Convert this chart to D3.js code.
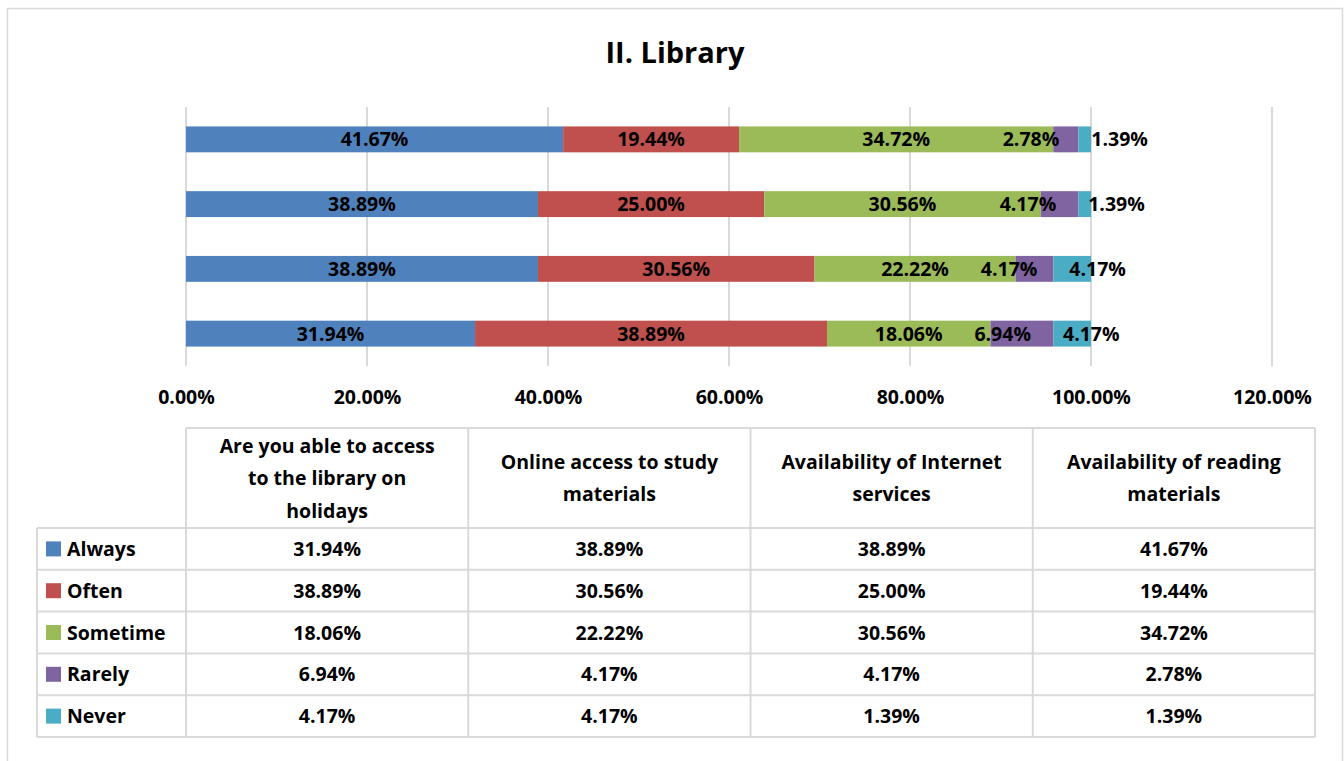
<!DOCTYPE html>
<html>
<head>
<meta charset="utf-8">
<script src="https://cdn.jsdelivr.net/npm/d3@7"></script>
<style>
  html, body { margin: 0; padding: 0; background: #fff; }
  svg { display: block; font-family: "Open Sans", Lato, "Liberation Sans", sans-serif; font-weight: 700; }
</style>
</head>
<body>
<svg id="chart" width="1344" height="761"></svg>
<script>
// ---- data ----
const title = "II. Library";
const categories = [
  "Are you able to access to the library on holidays",
  "Online access to study materials",
  "Availability of Internet services",
  "Availability of reading materials"
];
const seriesNames = ["Always", "Often", "Sometime", "Rarely", "Never"];
const seriesColors = ["#4F81BD", "#C0504D", "#9BBB59", "#8064A2", "#4BACC6"];
const always   = [31.94, 38.89, 38.89, 41.67];
const often    = [38.89, 30.56, 25.00, 19.44];
const sometime = [18.06, 22.22, 30.56, 34.72];
const rarely   = [6.94, 4.17, 4.17, 2.78];
const never    = [4.17, 4.17, 1.39, 1.39];
const xTicks = [0, 20, 40, 60, 80, 100, 120];

const seriesValues = [always, often, sometime, rarely, never];

// ---- layout ----
const svg = d3.select("#chart");
const W = 1344, H = 761;
const plot = { left: 186, right: 1272, top: 107, bottom: 366 };
const table = { legendLeft: 37, left: 186, right: 1315, top: 428, headerBottom: 528, rowH: 41.8 };
const gridColor = "#d9d9d9";
const fs = 19.5;
const fmt = v => v.toFixed(2) + "%";

// outer frame
svg.append("rect").attr("x", 7.5).attr("y", 8.5).attr("width", 1335).attr("height", H + 10)
  .attr("fill", "#fff").attr("stroke", gridColor).attr("stroke-width", 1.5);

// title
svg.append("text").attr("x", 675).attr("y", 63).attr("text-anchor", "middle")
  .attr("font-size", 29).attr("fill", "#000").text(title);

// scales
const x = d3.scaleLinear().domain([0, 120]).range([plot.left, plot.right]);
const y = d3.scaleBand().domain(categories.slice().reverse())
  .range([plot.top, plot.bottom]).paddingInner(0.6).paddingOuter(0.3);

// gridlines
svg.append("g").selectAll("line").data(xTicks).join("line")
  .attr("x1", d => x(d)).attr("x2", d => x(d))
  .attr("y1", plot.top).attr("y2", plot.bottom)
  .attr("stroke", gridColor).attr("stroke-width", 2);

// x axis labels (via d3 axis)
const xAxis = d3.axisBottom(x).tickValues(xTicks).tickFormat(d => d.toFixed(2) + "%").tickSize(0).tickPadding(0);
const gx = svg.append("g").attr("transform", `translate(0,${plot.bottom})`).call(xAxis);
gx.select(".domain").remove();
gx.selectAll("text").attr("font-size", fs).attr("font-family", "'Open Sans', sans-serif")
  .attr("font-weight", 700).attr("fill", "#000").attr("dy", null).attr("y", 38);

// stacked data
const stackRows = categories.map((c, ci) => {
  const o = { cat: c };
  seriesNames.forEach((s, si) => o[s] = seriesValues[si][ci]);
  return o;
});
const stacked = d3.stack().keys(seriesNames)(stackRows);

const gBars = svg.append("g");
stacked.forEach((layer, si) => {
  gBars.selectAll(null).data(layer).join("rect")
    .attr("x", d => x(d[0]))
    .attr("y", d => y(d.data.cat))
    .attr("width", d => x(d[1]) - x(d[0]))
    .attr("height", y.bandwidth())
    .attr("fill", seriesColors[si]);
});

// data labels with simple overlap avoidance
const gLab = svg.append("g");
categories.forEach((cat, ci) => {
  const labs = stacked.map((layer, si) => {
    const d = layer[ci];
    const t = gLab.append("text")
      .attr("y", y(cat) + y.bandwidth() / 2 + 7)
      .attr("text-anchor", "middle").attr("font-size", fs).attr("fill", "#000")
      .text(fmt(d[1] - d[0]));
    return { t, c: (x(d[0]) + x(d[1])) / 2, w: t.node().getComputedTextLength() };
  });
  const gap = 32;
  for (let i = 0; i < labs.length - 1; i++) {
    const a = labs[i], b = labs[i + 1];
    const need = a.w / 2 + b.w / 2;
    const sep = b.c - a.c;
    if (sep < need) {
      const deficit = need + gap - sep;
      a.c -= deficit / 2; b.c += deficit / 2;
    }
  }
  labs.forEach(l => l.t.attr("x", l.c));
});

// ---- data table ----
const colX = d3.scaleBand().domain(categories).range([table.left, table.right]);
const rowY = d3.scaleBand().domain(seriesNames)
  .range([table.headerBottom, table.headerBottom + table.rowH * seriesNames.length]);
const tBottom = table.headerBottom + table.rowH * seriesNames.length;
const gT = svg.append("g");
const line = (x1, y1, x2, y2) => gT.append("line").attr("x1", x1).attr("y1", y1).attr("x2", x2).attr("y2", y2)
  .attr("stroke", gridColor).attr("stroke-width", 2);

// horizontal lines
line(table.left, table.top, table.right, table.top);
seriesNames.forEach(s => line(table.legendLeft, rowY(s), table.right, rowY(s)));
line(table.legendLeft, tBottom, table.right, tBottom);
// vertical lines
line(table.legendLeft, table.headerBottom, table.legendLeft, tBottom);
categories.forEach(c => line(colX(c), table.top, colX(c), tBottom));
line(table.right, table.top, table.right, tBottom);

// header text with wrapping
const measure = gT.append("text").attr("font-size", fs).attr("visibility", "hidden");
function wrap(str, maxW) {
  const words = str.split(" ");
  const lines = []; let cur = "";
  words.forEach(w => {
    const test = cur ? cur + " " + w : w;
    measure.text(test);
    if (measure.node().getComputedTextLength() > maxW && cur) { lines.push(cur); cur = w; }
    else cur = test;
  });
  if (cur) lines.push(cur);
  return lines;
}
const lh = 32.5;
categories.forEach(c => {
  const lines = wrap(c, 230);
  const cy = (table.top + table.headerBottom) / 2;
  const t = gT.append("text").attr("text-anchor", "middle").attr("font-size", fs).attr("fill", "#000");
  lines.forEach((l, i) => {
    t.append("tspan").attr("x", colX(c) + colX.bandwidth() / 2)
      .attr("y", cy + (i - (lines.length - 1) / 2) * lh + 7).text(l);
  });
});
measure.remove();

// rows: legend + values
seriesNames.forEach((s, si) => {
  const cy = rowY(s) + rowY.bandwidth() / 2;
  gT.append("rect").attr("x", 46).attr("y", cy - 7.5).attr("width", 15).attr("height", 15).attr("fill", seriesColors[si]);
  gT.append("text").attr("x", 67).attr("y", cy + 7).attr("font-size", fs).attr("fill", "#000").text(s);
  categories.forEach((c, ci) => {
    gT.append("text").attr("x", colX(c) + colX.bandwidth() / 2).attr("y", cy + 7)
      .attr("text-anchor", "middle").attr("font-size", fs).attr("fill", "#000")
      .text(fmt(seriesValues[si][ci]));
  });
});
</script>
</body>
</html>
